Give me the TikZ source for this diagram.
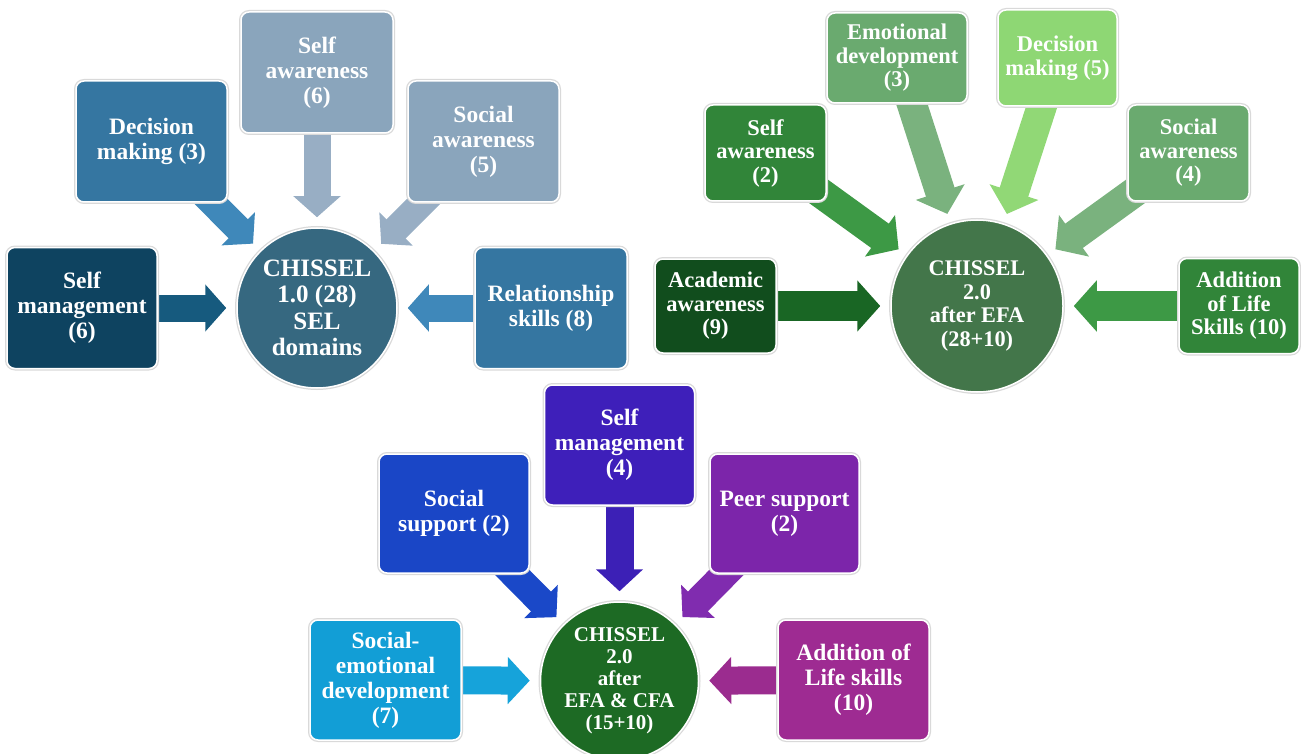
\documentclass[tikz,border=0pt]{standalone}
\usepackage{fontspec}
\setmainfont{Liberation Serif}
\usetikzlibrary{arrows.meta}
\usetikzlibrary{backgrounds}

% first cluster (SEL domains)
\definecolor{oneDark}{RGB}{14,67,96}
\definecolor{oneDarkArr}{RGB}{22,90,126}
\definecolor{oneHub}{RGB}{54,104,128}
\definecolor{oneMid}{RGB}{53,118,161}
\definecolor{oneMidArr}{RGB}{63,136,186}
\definecolor{oneLight}{RGB}{138,165,188}
\definecolor{oneLightArr}{RGB}{152,174,196}
% second cluster (after EFA)
\definecolor{twoDark}{RGB}{17,77,29}
\definecolor{twoDarkArr}{RGB}{25,102,36}
\definecolor{twoHub}{RGB}{67,118,74}
\definecolor{twoMid}{RGB}{49,133,57}
\definecolor{twoMidArr}{RGB}{61,153,69}
\definecolor{twoSoft}{RGB}{106,170,111}
\definecolor{twoSoftArr}{RGB}{122,178,126}
\definecolor{twoLight}{RGB}{142,215,116}
\definecolor{twoLightArr}{RGB}{145,216,118}
% third cluster (after EFA & CFA)
\definecolor{threeCyan}{RGB}{18,158,214}
\definecolor{threeCyanArr}{RGB}{22,163,218}
\definecolor{threeHub}{RGB}{29,106,36}
\definecolor{threeBlue}{RGB}{26,70,198}
\definecolor{threeBlueArr}{RGB}{26,72,200}
\definecolor{threeIndigo}{RGB}{62,31,186}
\definecolor{threeIndigoArr}{RGB}{60,32,182}
\definecolor{threeViolet}{RGB}{124,37,170}
\definecolor{threeVioletArr}{RGB}{128,44,175}
\definecolor{threePlum}{RGB}{158,43,146}
\definecolor{threePlumArr}{RGB}{155,44,143}

\newcommand\boxfontA{\fontsize{23.5}{25}\selectfont\bfseries}
\newcommand\boxfontB{\fontsize{22.5}{23.5}\selectfont\bfseries}
\newcommand\hubfontA{\fontsize{25}{26.5}\selectfont\bfseries}
\newcommand\hubfontB{\fontsize{22.3}{23.5}\selectfont\bfseries}
\newcommand\hubfontC{\fontsize{21}{22}\selectfont\bfseries}

\begin{document}
\begin{tikzpicture}[x=1pt, y=-1pt,
    box/.style={rounded corners=8pt, draw=white, line width=1.5pt, text=white, align=center, inner sep=0pt,
                preaction={draw=black!15, line width=4pt}},
    hub/.style={circle, draw=white, line width=1.5pt, text=white, align=center, inner sep=0pt,
                preaction={draw=black!15, line width=4pt}},
    blkA/.style={line width=27pt, -{Triangle[width=46pt,length=21pt]}, shorten >=10pt},
    blkB/.style={line width=30pt, -{Triangle[width=50pt,length=23pt]}, shorten >=10pt},
    blkC/.style={line width=28pt, -{Triangle[width=46pt,length=22pt]}, shorten >=10pt}]

    \useasboundingbox (0,0) rectangle (1301,754);

    % CHISSEL 1.0
    \node[hub, fill=oneHub, minimum size=160pt, font=\hubfontA] (c1) at (317,308) {CHISSEL\\1.0 (28)\\SEL\\domains};
    \node[box, fill=oneDark, minimum width=150pt, minimum height=121pt, font=\boxfontA] (sm1) at (82,308) {Self\\management\\(6)};
    \node[box, fill=oneMid, minimum width=151pt, minimum height=121pt, font=\boxfontA] (dm1) at (151.5,141.5) {Decision\\making (3)};
    \node[box, fill=oneLight, minimum width=152pt, minimum height=121pt, font=\boxfontA] (sa1) at (317,72.5) {Self\\awareness\\(6)};
    \node[box, fill=oneLight, minimum width=151pt, minimum height=121pt, font=\boxfontA] (so1) at (483.5,141.5) {Social\\awareness\\(5)};
    \node[box, fill=oneMid, minimum width=152pt, minimum height=121pt, font=\boxfontA] (rs1) at (551,308) {Relationship\\skills (8)};

    % CHISSEL 2.0 after EFA
    \node[hub, fill=twoHub, minimum size=172pt, font=\hubfontB] (c2) at (977,306) {CHISSEL\\2.0\\after EFA\\(28+10)};
    \node[box, fill=twoDark, minimum width=121pt, minimum height=94pt, font=\boxfontB] (ac2) at (715.5,306) {Academic\\awareness\\(9)};
    \node[box, fill=twoMid, minimum width=121pt, minimum height=96pt, font=\boxfontB] (sa2) at (765.5,153) {Self\\awareness\\(2)};
    \node[box, fill=twoSoft, minimum width=140pt, minimum height=90pt, font=\boxfontB] (em2) at (897,58) {Emotional\\development\\(3)};
    \node[box, fill=twoLight, minimum width=119pt, minimum height=96pt, font=\boxfontB] (dm2) at (1057.5,58) {Decision\\making (5)};
    \node[box, fill=twoSoft, minimum width=121pt, minimum height=96pt, font=\boxfontB] (so2) at (1188.5,153) {Social\\awareness\\(4)};
    \node[box, fill=twoMid, minimum width=120pt, minimum height=95pt, font=\boxfontB] (ad2) at (1239,306) {Addition\\of Life\\Skills (10)};

    % CHISSEL 2.0 after EFA & CFA
    \node[hub, fill=threeHub, minimum size=158pt, font=\hubfontC] (c3) at (619.5,681) {CHISSEL\\2.0\\after\\EFA \& CFA\\(15+10)};
    \node[box, fill=threeCyan, minimum width=151pt, minimum height=120pt, font=\boxfontA] (se3) at (385.5,680) {Social-\\emotional\\development\\(7)};
    \node[box, fill=threeBlue, minimum width=150pt, minimum height=119pt, font=\boxfontA] (ss3) at (454,513.5) {Social\\support (2)};
    \node[box, fill=threeIndigo, minimum width=150pt, minimum height=120pt, font=\boxfontA] (sm3) at (619.5,445) {Self\\management\\(4)};
    \node[box, fill=threeViolet, minimum width=149pt, minimum height=119pt, font=\boxfontA] (ps3) at (784.5,513.5) {Peer support\\(2)};
    \node[box, fill=threePlum, minimum width=151pt, minimum height=120pt, font=\boxfontA] (ad3) at (853.5,680) {Addition of\\Life skills\\(10)};

    % block arrows behind the boxes
    \begin{scope}[on background layer]
        \draw[blkA, color=oneDarkArr] (sm1.center) -- (c1);
        \draw[blkA, color=oneMidArr] (dm1.center) -- (c1);
        \draw[blkA, color=oneLightArr] (sa1.center) -- (c1);
        \draw[blkA, color=oneLightArr] (so1.center) -- (c1);
        \draw[blkA, color=oneMidArr] (rs1.center) -- (c1);

        \draw[blkB, color=twoDarkArr] (ac2.center) -- (c2);
        \draw[blkB, color=twoMidArr] (sa2.center) -- (c2);
        \draw[blkB, color=twoSoftArr] (em2.center) -- (c2);
        \draw[blkB, color=twoLightArr] (dm2.center) -- (c2);
        \draw[blkB, color=twoSoftArr] (so2.center) -- (c2);
        \draw[blkB, color=twoMidArr] (ad2.center) -- (c2);

        \draw[blkC, color=threeCyanArr] (se3.center) -- (c3);
        \draw[blkC, color=threeBlueArr] (ss3.center) -- (c3);
        \draw[blkC, color=threeIndigoArr] (sm3.center) -- (c3);
        \draw[blkC, color=threeVioletArr] (ps3.center) -- (c3);
        \draw[blkC, color=threePlumArr] (ad3.center) -- (c3);
    \end{scope}
\end{tikzpicture}
\end{document}
